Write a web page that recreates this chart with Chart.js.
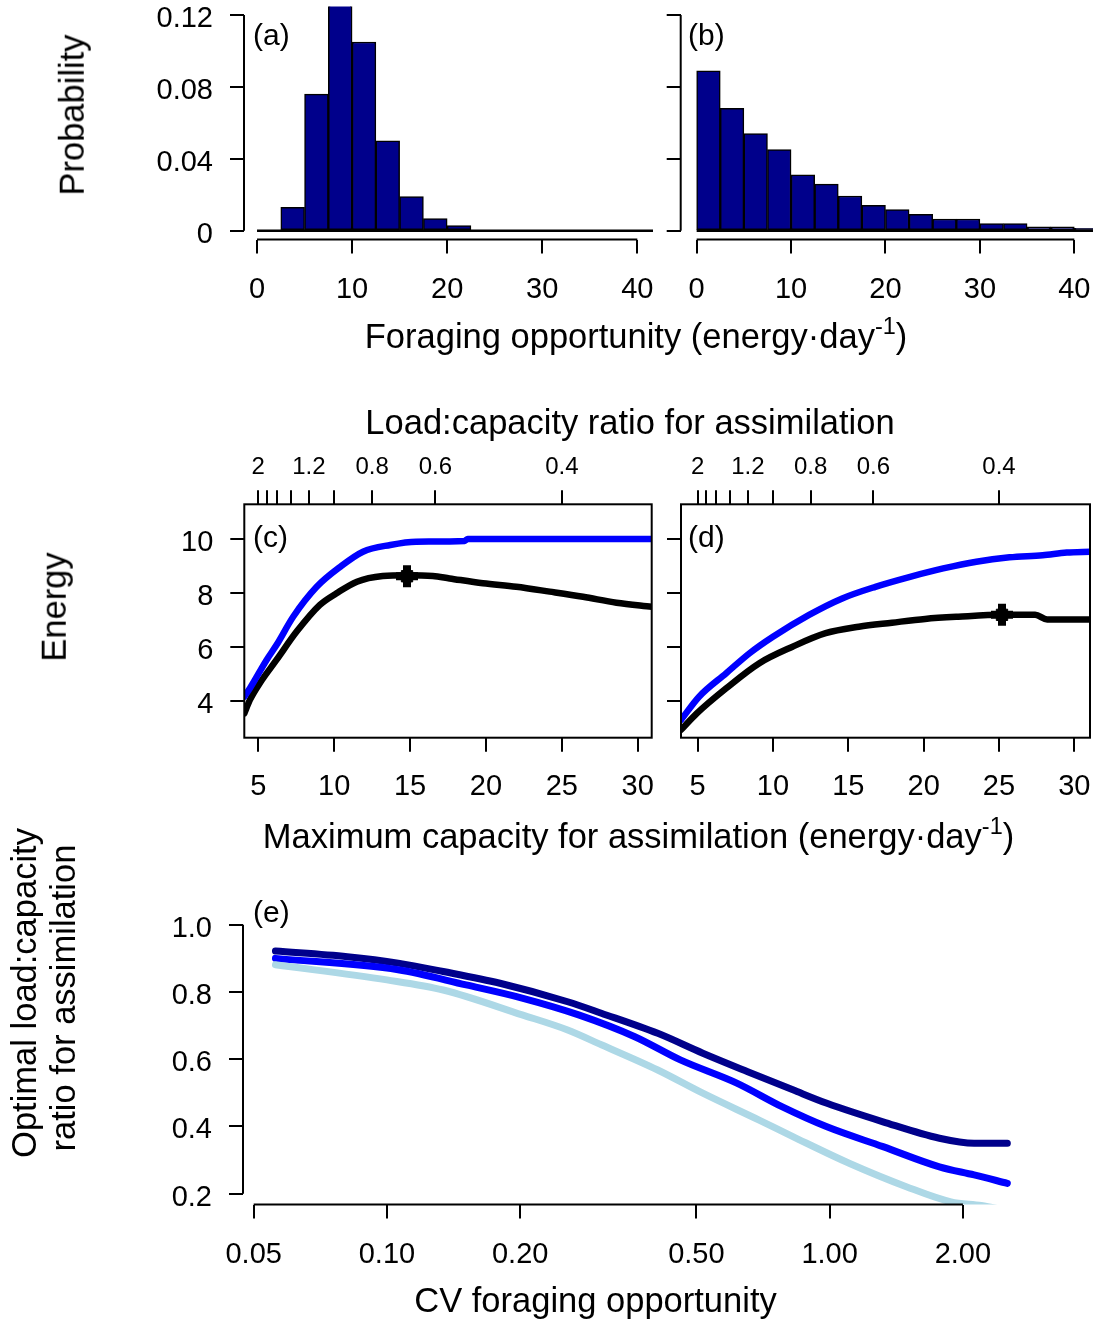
<!DOCTYPE html>
<html>
<head>
<meta charset="utf-8">
<script src="https://cdn.jsdelivr.net/npm/chart.js@4.4.1/dist/chart.umd.min.js"></script>
<style>
  body { margin: 0; background: #fff; }
  #page { position: relative; width: 1095px; height: 1322px; overflow: hidden; background: #fff;
          font-family: "Liberation Sans", Arial, sans-serif; color: #000; }
  canvas { position: absolute; }
  .t { position: absolute; white-space: nowrap; line-height: 1; font-size: 34.5px; transform: translate(-50%, -50%); }
  .v { transform: translate(-50%, -50%) rotate(-90deg); }
  .lab { position: absolute; font-size: 30px; line-height: 1; transform: translateY(-50%); }
  sup { font-size: 0.68em; line-height: 0; vertical-align: 0.6em; }
</style>
</head>
<body>
<div id="page">
  <canvas id="ca" width="660" height="320" style="left:0px;top:0px"></canvas>
  <canvas id="cb" width="435" height="320" style="left:660px;top:0px"></canvas>
  <canvas id="cc" width="660" height="440" style="left:0px;top:380px"></canvas>
  <canvas id="cd" width="435" height="440" style="left:660px;top:380px"></canvas>
  <canvas id="ce" width="1095" height="462" style="left:0px;top:860px"></canvas>

  <div class="t v" style="left:71.5px;top:115px">Probability</div>
  <div class="t v" style="left:54px;top:607px">Energy</div>
  <div class="t v" style="left:24px;top:993px">Optimal load:capacity</div>
  <div class="t v" style="left:62.5px;top:998px">ratio for assimilation</div>
  <div class="t" style="left:636px;top:336px">Foraging opportunity (energy·day<sup>-1</sup>)</div>
  <div class="t" style="left:630px;top:422px">Load:capacity ratio for assimilation</div>
  <div class="t" style="left:638.5px;top:836px">Maximum capacity for assimilation (energy·day<sup>-1</sup>)</div>
  <div class="t" style="left:595.5px;top:1300px">CV foraging opportunity</div>

  <div class="lab" style="left:253px;top:35px">(a)</div>
  <div class="lab" style="left:688px;top:35px">(b)</div>
  <div class="lab" style="left:253px;top:537px">(c)</div>
  <div class="lab" style="left:688px;top:537px">(d)</div>
  <div class="lab" style="left:253px;top:912px">(e)</div>
</div>

<script>
// histogram bins (energy per day), width 2.5
const binMids = [1.25, 3.75, 6.25, 8.75, 11.25, 13.75, 16.25, 18.75, 21.25, 23.75, 26.25, 28.75, 31.25, 33.75, 36.25, 38.75, 41.25];
const binWidth = 2.5;
const probA = [0, 0.013, 0.076, 0.128, 0.105, 0.050, 0.019, 0.0067, 0.0028, 0, 0, 0, 0, 0, 0, 0, 0];
const probB = [0.0889, 0.0681, 0.0541, 0.0452, 0.0311, 0.0259, 0.0193, 0.0141, 0.0117, 0.0091, 0.0065, 0.0065, 0.0039, 0.0039, 0.0022, 0.0022, 0.0013];
const forageTicks = [0, 10, 20, 30, 40];
const probTicks = [0, 0.04, 0.08, 0.12];
const probLabels = ["0", "0.04", "0.08", "0.12"];

// panel (c): narrow distribution
const grossCapC = [4.08, 4.45, 5.55, 6.2, 7.3, 8.85, 10.4, 11.9, 13.7, 15.4, 18.6, 18.8, 30.92];
const grossC = [4.16, 4.47, 5.52, 6.07, 7.12, 8.23, 8.97, 9.53, 9.78, 9.9, 9.93, 10.0, 10.0];
const netCapC = [4.08, 4.45, 5.1, 6.2, 7.53, 9.06, 10.16, 11.5, 13.2, 14.8, 16.5, 17.6, 19.8, 22.0, 24.2, 26.4, 28.6, 30.92];
const netC = [3.54, 4.04, 4.66, 5.52, 6.57, 7.56, 7.99, 8.42, 8.63, 8.66, 8.63, 8.54, 8.36, 8.23, 8.05, 7.86, 7.64, 7.49];
const optC = [14.8, 8.62];

// panel (d): exponential distribution
const grossCapD = [3.9, 5.1, 6.9, 8.45, 10.0, 12.4, 14.6, 16.8, 19.1, 21.3, 23.5, 25.7, 27.9, 29.5, 31.04];
const grossD = [3.3, 4.16, 5.03, 5.77, 6.38, 7.19, 7.8, 8.23, 8.6, 8.91, 9.16, 9.32, 9.4, 9.5, 9.53];
const netCapD = [3.9, 4.95, 6.9, 9.1, 11.3, 13.5, 15.7, 17.9, 20.1, 22.3, 25.2, 27.4, 28.2, 31.04];
const netD = [2.93, 3.54, 4.47, 5.4, 6.01, 6.51, 6.75, 6.9, 7.04, 7.12, 7.19, 7.19, 7.02, 7.02];
const optD = [25.2, 7.19];

const capTicks = [5, 10, 15, 20, 25, 30];
const energyTicks = [4, 6, 8, 10];
const meanForage = 10;
const ratioTicks = [2, 1.8, 1.6, 1.4, 1.2, 1.0, 0.8, 0.6, 0.4];
const ratioLabels = ["2", "", "", "", "1.2", "", "0.8", "0.6", "0.4"];

// panel (e)
const cvNavy = [0.056, 0.0814, 0.106, 0.134, 0.18, 0.256, 0.305, 0.409, 0.517, 0.653, 0.826, 0.986, 1.32, 1.77, 2.12, 2.52];
const ratioNavy = [0.922, 0.905, 0.886, 0.861, 0.826, 0.771, 0.737, 0.677, 0.618, 0.563, 0.509, 0.469, 0.414, 0.365, 0.35, 0.35];
const cvBlue = [0.056, 0.106, 0.151, 0.202, 0.271, 0.363, 0.46, 0.617, 0.78, 0.986, 1.32, 1.77, 2.12, 2.52];
const ratioBlue = [0.9, 0.866, 0.821, 0.782, 0.732, 0.667, 0.598, 0.529, 0.459, 0.399, 0.34, 0.28, 0.256, 0.231];
const cvLight = [0.056, 0.1, 0.134, 0.202, 0.256, 0.305, 0.409, 0.517, 0.693, 0.826, 1.11, 1.49, 1.88, 2.2, 2.52];
const ratioLight = [0.881, 0.836, 0.806, 0.732, 0.687, 0.643, 0.568, 0.499, 0.419, 0.37, 0.29, 0.221, 0.176, 0.165, 0.15];
const cvTicks = [0.05, 0.1, 0.2, 0.5, 1, 2];
const cvLabels = ["0.05", "0.10", "0.20", "0.50", "1.00", "2.00"];
const optRatioTicks = [0.2, 0.4, 0.6, 0.8, 1.0];
const optRatioLabels = ["0.2", "0.4", "0.6", "0.8", "1.0"];

Chart.defaults.font.family = '"Liberation Sans", Arial, sans-serif';
Chart.defaults.font.size = 29;
Chart.defaults.color = "#000";

function pts(xs, ys) {
  return xs.map((x, i) => ({ x: x, y: ys[i] }));
}

// R style axis lines (only between first and last tick) and optional box
function axisPlugin(lines, box) {
  return {
    id: "rAxes",
    afterDraw(chart) {
      const ctx = chart.ctx;
      ctx.save();
      ctx.strokeStyle = "#000";
      ctx.lineWidth = 2;
      lines.forEach(l => {
        const s = chart.scales[l.scale];
        ctx.beginPath();
        if (s.isHorizontal()) {
          const y = s.position === "top" ? s.bottom : s.top;
          ctx.moveTo(s.getPixelForValue(l.from), y);
          ctx.lineTo(s.getPixelForValue(l.to), y);
        } else {
          ctx.moveTo(s.right, s.getPixelForValue(l.from));
          ctx.lineTo(s.right, s.getPixelForValue(l.to));
        }
        ctx.stroke();
      });
      if (box) {
        const a = chart.chartArea;
        ctx.strokeRect(a.left, a.top, a.right - a.left, a.bottom - a.top);
      }
      ctx.restore();
    }
  };
}

function scale(opts) {
  const vertical = opts.position === "left";
  return {
    type: opts.type || "linear",
    position: opts.position,
    min: opts.min,
    max: opts.max,
    offset: false,
    border: { display: false },
    grid: { offset: false, drawOnChartArea: false, drawTicks: true, tickLength: 14, color: "#000", lineWidth: 2 },
    ticks: {
      display: !!opts.labels,
      padding: opts.padding,
      labelOffset: vertical ? 4 : 0,
      maxRotation: 0,
      autoSkip: false,
      font: { size: opts.fontSize || 29, lineHeight: 1 },
      callback: (v, i) => (opts.labels ? opts.labels[i] : "")
    },
    afterBuildTicks: sc => { sc.ticks = opts.ticks.map(v => ({ value: v })); },
    afterFit: sc => {
      if (sc.isHorizontal()) sc.height = opts.size; else sc.width = opts.size;
      sc.paddingTop = 0; sc.paddingBottom = 0; sc.paddingLeft = 0; sc.paddingRight = 0;
    }
  };
}

function baseOptions(padding, scales) {
  return {
    responsive: false,
    animation: false,
    events: [],
    layout: { padding: padding, autoPadding: false },
    plugins: { legend: { display: false }, tooltip: { enabled: false } },
    scales: scales
  };
}

function histChart(id, probs, xmin, xmax, yLabels, yWidth, padRight) {
  const lo = binMids[0] - binWidth / 2;
  const hi = binMids[binMids.length - 1] + binWidth / 2;
  new Chart(document.getElementById(id), {
    type: "bar",
    data: {
      datasets: [
        {
          type: "line",
          data: [{ x: lo, y: 0 }, { x: hi, y: 0 }],
          borderColor: "#000",
          borderWidth: 2.5,
          pointRadius: 0,
          order: 0,
          clip: 0
        },
        {
          data: pts(binMids, probs),
          backgroundColor: "#00008B",
          borderColor: "#000",
          borderWidth: 1.5,
          borderSkipped: false,
          barPercentage: 1,
          categoryPercentage: 1,
          order: 1
        }
      ]
    },
    options: baseOptions({ top: 6.4, right: padRight, left: 0, bottom: 0 }, {
      x: scale({ position: "bottom", min: xmin, max: xmax, ticks: forageTicks, labels: forageTicks.map(String), padding: 22, size: 80.4 }),
      y: scale({ position: "left", min: -0.00495, max: 0.1248, ticks: probTicks, labels: yLabels, padding: 17, size: yWidth })
    }),
    plugins: [axisPlugin([{ scale: "x", from: 0, to: 40 }, { scale: "y", from: 0, to: 0.12 }], false)]
  });
}

function energyChart(id, grossX, grossY, netX, netY, opt, xmin, xmax, yLabels, yWidth, padRight) {
  new Chart(document.getElementById(id), {
    type: "line",
    data: {
      datasets: [
        {
          data: pts(grossX, grossY),
          borderColor: "#0000FF",
          borderWidth: 6.5,
          borderCapStyle: "round",
          cubicInterpolationMode: "monotone",
          pointRadius: 0,
          clip: 0
        },
        {
          data: pts(netX, netY),
          borderColor: "#000",
          borderWidth: 6.5,
          borderCapStyle: "round",
          cubicInterpolationMode: "monotone",
          pointRadius: 0,
          clip: 0
        },
        {
          // optimum: heavy filled plus
          data: [{ x: opt[0], y: opt[1] }, { x: opt[0], y: opt[1] }],
          showLine: false,
          pointStyle: ["rect", "cross"],
          pointRadius: [8, 11],
          pointBorderWidth: [1, 8],
          pointBackgroundColor: "#000",
          pointBorderColor: "#000"
        }
      ]
    },
    options: baseOptions({ top: 0, right: padRight, left: 0, bottom: 0 }, {
      x: scale({ position: "bottom", min: xmin, max: xmax, ticks: capTicks, labels: capTicks.map(String), padding: 21, size: 82.3 }),
      x2: scale({ position: "top", min: xmin, max: xmax, ticks: ratioTicks.map(r => meanForage / r), labels: ratioLabels, padding: 11, fontSize: 24, size: 124.3 }),
      y: scale({ position: "left", min: 2.64, max: 11.285, ticks: energyTicks, labels: yLabels, padding: 17, size: yWidth })
    }),
    plugins: [axisPlugin([], true)]
  });
}

histChart("ca", probA, -1.37, 41.65, probLabels, 244, 7);
histChart("cb", probB, -1.69, 41.98, null, 20.7, 2);
energyChart("cc", grossCapC, grossC, netCapC, netC, optC, 4.08, 30.92, energyTicks.map(String), 244.3, 8.3);
energyChart("cd", grossCapD, grossD, netCapD, netD, optD, 3.9, 31.04, null, 21, 5);

function cvLine(xs, ys, color) {
  return {
    data: pts(xs, ys),
    borderColor: color,
    borderWidth: 7,
    borderCapStyle: "round",
    cubicInterpolationMode: "monotone",
    pointRadius: 0,
    clip: 0
  };
}

new Chart(document.getElementById("ce"), {
  type: "line",
  data: {
    datasets: [
      cvLine(cvLight, ratioLight, "#ADD8E6"),
      cvLine(cvBlue, ratioBlue, "#0000FF"),
      cvLine(cvNavy, ratioNavy, "#00008B")
    ]
  },
  options: baseOptions({ top: 54, right: 60, left: 0, bottom: 0 }, {
    x: scale({ type: "logarithmic", position: "bottom", min: 0.0473, max: 2.91, ticks: cvTicks, labels: cvLabels, padding: 22, size: 117.5 }),
    y: scale({ position: "left", min: 0.168, max: 1.032, ticks: optRatioTicks, labels: optRatioLabels, padding: 17, size: 243 })
  }),
  plugins: [axisPlugin([{ scale: "x", from: 0.05, to: 2 }, { scale: "y", from: 0.2, to: 1.0 }], false)]
});
</script>
</body>
</html>
